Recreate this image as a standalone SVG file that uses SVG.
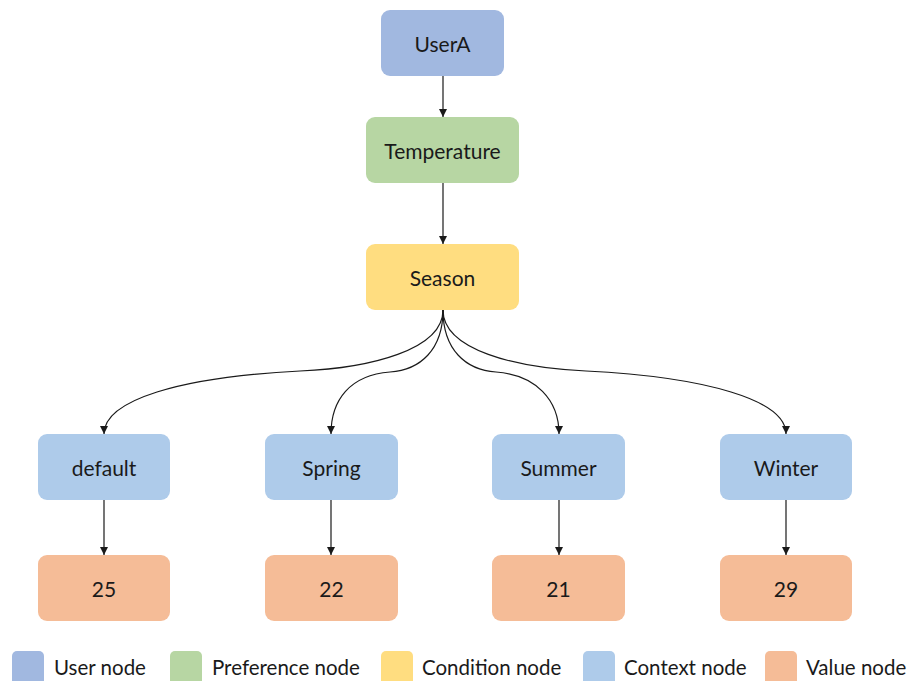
<svg xmlns="http://www.w3.org/2000/svg" width="912" height="681" viewBox="0 0 912 681">
<style>
  .n { stroke: none; }
  .t { font-family: Lato, "Open Sans", sans-serif; font-size: 21px; fill: #1a1a1a; text-anchor: middle; dominant-baseline: central; }
  .lt { font-family: Lato, "Open Sans", sans-serif; font-size: 20.5px; fill: #1a1a1a; dominant-baseline: central; }
  .user { fill: #a1b8e0; }
  .pref { fill: #b7d6a3; }
  .cond { fill: #ffdd80; }
  .ctx { fill: #aecbea; }
  .val { fill: #f5bc97; }
  .e { fill: none; stroke: #1a1a1a; stroke-width: 1.2; marker-end: url(#arr); }
</style>
<defs>
  <marker id="arr" viewBox="0 0 10 10" refX="10" refY="5" markerWidth="8" markerHeight="8" markerUnits="userSpaceOnUse" orient="auto">
    <path d="M0,0 L10,5 L0,10 z" fill="#1a1a1a"/>
  </marker>
</defs>
<rect width="912" height="681" fill="#ffffff"/>
<g id="connectors">
  <path class="e" d="M443,76 L443,117"/>
  <path class="e" d="M443,183 L443,244"/>
  <path class="e" d="M443,310 C443,350 370,368 300,371 C180,377 104,400 104,434"/>
  <path class="e" d="M443,310 C443,350 420,370 390,372 C350,375 331,400 331,434"/>
  <path class="e" d="M443,310 C443,350 466,370 496,372 C536,375 559,400 559,434"/>
  <path class="e" d="M443,310 C443,350 516,368 586,371 C706,377 786,400 786,434"/>
  <path class="e" d="M104,500 L104,555"/>
  <path class="e" d="M331,500 L331,555"/>
  <path class="e" d="M559,500 L559,555"/>
  <path class="e" d="M786,500 L786,555"/>
</g>
<g id="node-usera"><rect class="n user" x="381" y="10" width="123" height="66" rx="9"/><text class="t" x="442.5" y="43">UserA</text></g>
<g id="node-temperature"><rect class="n pref" x="366" y="117" width="153" height="66" rx="9"/><text class="t" x="442.5" y="150">Temperature</text></g>
<g id="node-season"><rect class="n cond" x="366" y="244" width="153" height="66" rx="9"/><text class="t" x="442.5" y="277">Season</text></g>
<g id="node-default"><rect class="n ctx" x="38" y="434" width="132" height="66" rx="9"/><text class="t" x="104" y="467">default</text></g>
<g id="node-spring"><rect class="n ctx" x="265" y="434" width="133" height="66" rx="9"/><text class="t" x="331.5" y="467">Spring</text></g>
<g id="node-summer"><rect class="n ctx" x="492" y="434" width="133" height="66" rx="9"/><text class="t" x="558.5" y="467">Summer</text></g>
<g id="node-winter"><rect class="n ctx" x="720" y="434" width="132" height="66" rx="9"/><text class="t" x="786" y="467">Winter</text></g>
<g id="node-25"><rect class="n val" x="38" y="555" width="132" height="66" rx="9"/><text class="t" x="104" y="588">25</text></g>
<g id="node-22"><rect class="n val" x="265" y="555" width="133" height="66" rx="9"/><text class="t" x="331.5" y="588">22</text></g>
<g id="node-21"><rect class="n val" x="492" y="555" width="133" height="66" rx="9"/><text class="t" x="558.5" y="588">21</text></g>
<g id="node-29"><rect class="n val" x="720" y="555" width="132" height="66" rx="9"/><text class="t" x="786" y="588">29</text></g>
<g id="legend">
  <rect class="user" x="12" y="651" width="32" height="36" rx="5"/><text class="lt" x="54" y="667">User node</text>
  <rect class="pref" x="170" y="651" width="32" height="36" rx="5"/><text class="lt" x="212" y="667">Preference node</text>
  <rect class="cond" x="381" y="651" width="32" height="36" rx="5"/><text class="lt" x="422" y="667">Condition node</text>
  <rect class="ctx" x="583" y="651" width="32" height="36" rx="5"/><text class="lt" x="624" y="667">Context node</text>
  <rect class="val" x="765" y="651" width="32" height="36" rx="5"/><text class="lt" x="806" y="667">Value node</text>
</g>
</svg>
